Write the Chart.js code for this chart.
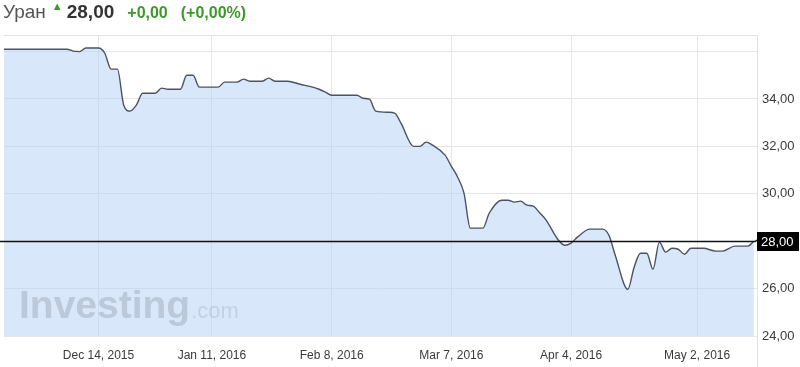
<!DOCTYPE html>
<html>
<head>
<meta charset="utf-8">
<script src="https://cdn.jsdelivr.net/npm/chart.js@4/dist/chart.umd.min.js"></script>
<style>
  html, body { margin: 0; padding: 0; background: #fff; }
  #wrap { position: relative; width: 800px; height: 367px; overflow: hidden; }
  #title { position: absolute; left: 3px; top: 1px; height: 28px; display: flex; align-items: baseline;
           font-family: "Liberation Sans", Arial, sans-serif; white-space: nowrap; }
  #title .name { font-size: 19px; color: #555; }
  #title .arrow { font-size: 11px; color: #3c9a2a; margin-left: 6px; position: relative; top: -8px; }
  #title .price { font-size: 19px; font-weight: bold; color: #333; margin-left: 4px; }
  #title .chg { font-size: 16px; font-weight: bold; color: #3c9a2a; margin-left: 13px; }
  #title .pct { font-size: 16px; font-weight: bold; color: #3c9a2a; margin-left: 13px; }
  canvas { position: absolute; left: 0; top: 0; }
</style>
</head>
<body>
<div id="wrap">
  <canvas id="c" width="800" height="367"></canvas>
  <div id="title"><span class="name">Уран</span><span class="arrow">▲</span><span class="price">28,00</span><span class="chg">+0,00</span><span class="pct">(+0,00%)</span></div>
</div>
<script>
// trading-day index (0 = Dec 14, 2015)
const dayIndex = [-15,-5,-4,-3,-2,0,1,2,3,4,5,6,7,9,10,11,13,14,15,16,19,20,22,23,24,26,27,28,30,32,34,35,36,37,41,42,43,44,46,47,48,50,51,52,53,55,56,57,58,59,61,62,64,65,66,67,68,69,70,71,73,74,75,76,78,80,81,82,84,85,86,87,88,89,90,91,92,93,94,96,98,99,101,103,104];
const prices = [36.10,36.10,36.02,36.00,36.15,36.15,35.93,35.26,35.26,33.74,33.49,33.74,34.24,34.24,34.46,34.41,34.41,35.00,35.00,34.50,34.50,34.71,34.71,34.84,34.75,34.75,34.88,34.75,34.75,34.62,34.50,34.41,34.29,34.16,34.16,34.03,33.99,33.49,33.44,33.40,32.98,32.00,32.00,32.18,32.05,31.63,31.16,30.70,30.03,28.55,28.55,29.18,29.73,29.73,29.65,29.69,29.52,29.48,29.20,28.90,28.04,27.83,27.92,28.17,28.51,28.51,28.25,27.41,25.97,26.90,27.49,27.49,26.82,27.96,27.54,27.70,27.66,27.45,27.70,27.70,27.58,27.58,27.79,27.79,28.00];
const tickDays = [0, 18, 37, 56, 75, 95];
const tickLabels = ["Dec 14, 2015", "Jan 11, 2016", "Feb 8, 2016", "Mar 7, 2016", "Apr 4, 2016", "May 2, 2016"];
const yTickValues = [24, 26, 28, 30, 32, 34, 36];
const yHiddenLabels = [36];
const lastPrice = 28.00;

const fmt = v => v.toFixed(2).replace('.', ',');
const FONT = '"Liberation Sans", Arial, sans-serif';

const overlay = {
  id: 'overlay',
  beforeDatasetsDraw(chart) {
    const {ctx, chartArea: a} = chart;
    ctx.save();
    ctx.strokeStyle = '#e2e2e2';
    ctx.lineWidth = 1;
    ctx.beginPath();
    ctx.moveTo(a.left, a.top + 0.5); ctx.lineTo(a.right, a.top + 0.5);
    ctx.moveTo(a.right + 0.5, a.top); ctx.lineTo(a.right + 0.5, chart.height);
    ctx.stroke();
    ctx.restore();
  },
  afterDatasetsDraw(chart) {
    const {ctx, chartArea: a, scales} = chart;
    ctx.save();
    // watermark
    ctx.textBaseline = 'alphabetic';
    ctx.fillStyle = 'rgba(140,152,165,0.38)';
    ctx.font = 'bold 39px ' + FONT;
    ctx.fillText('Investing', 19, 318);
    const w = ctx.measureText('Investing').width;
    ctx.fillStyle = 'rgba(140,152,165,0.28)';
    ctx.font = '22px ' + FONT;
    ctx.fillText('.com', 19 + w + 1, 318);
    // last price line
    const y = Math.round(scales.y.getPixelForValue(lastPrice)) + 0.5;
    ctx.strokeStyle = '#111';
    ctx.lineWidth = 1.5;
    ctx.beginPath();
    ctx.moveTo(0, y); ctx.lineTo(a.right - 2, y); ctx.lineTo(a.right + 1, y - 2);
    ctx.stroke();
    ctx.fillStyle = '#000';
    ctx.fillRect(a.right, y - 9.5, 42, 19);
    ctx.fillStyle = '#fff';
    ctx.font = '13px ' + FONT;
    ctx.textAlign = 'left';
    ctx.textBaseline = 'middle';
    ctx.fillText(fmt(lastPrice), a.right + 4, y + 1);
    ctx.restore();
  }
};

new Chart(document.getElementById('c'), {
  type: 'line',
  data: {
    datasets: [{
      data: dayIndex.map((d, i) => ({x: d, y: prices[i]})),
      borderColor: '#4b5361',
      borderWidth: 1.4,
      backgroundColor: 'rgba(178,208,245,0.5)',
      fill: 'start',
      pointRadius: 0,
      cubicInterpolationMode: 'monotone'
    }]
  },
  options: {
    responsive: false,
    animation: false,
    devicePixelRatio: 1,
    layout: { padding: { left: 4, top: 35, right: 0, bottom: 0 } },
    plugins: { legend: { display: false }, tooltip: { enabled: false } },
    scales: {
      x: {
        type: 'linear',
        min: -15, max: 104.5,
        afterBuildTicks: s => { s.ticks = tickDays.map(v => ({value: v})); },
        afterFit: s => { s.height = 31; },
        grid: { color: '#e6e6e6', drawTicks: false },
        border: { display: false },
        ticks: {
          autoSkip: false, maxRotation: 0, padding: 12,
          color: '#3a3a3a', font: { family: FONT, size: 12 },
          callback: v => { const k = tickDays.indexOf(v); return k >= 0 ? tickLabels[k] : ''; }
        }
      },
      y: {
        position: 'right',
        min: 24, max: 36.7,
        afterBuildTicks: s => { s.ticks = yTickValues.map(v => ({value: v})); },
        afterFit: s => { s.width = 43; },
        grid: { color: '#e6e6e6', drawTicks: false },
        border: { display: false },
        ticks: {
          padding: 5, color: '#3a3a3a', font: { family: FONT, size: 13 },
          callback: v => yHiddenLabels.includes(v) ? '' : fmt(v)
        }
      }
    }
  },
  plugins: [overlay]
});
</script>
</body>
</html>
